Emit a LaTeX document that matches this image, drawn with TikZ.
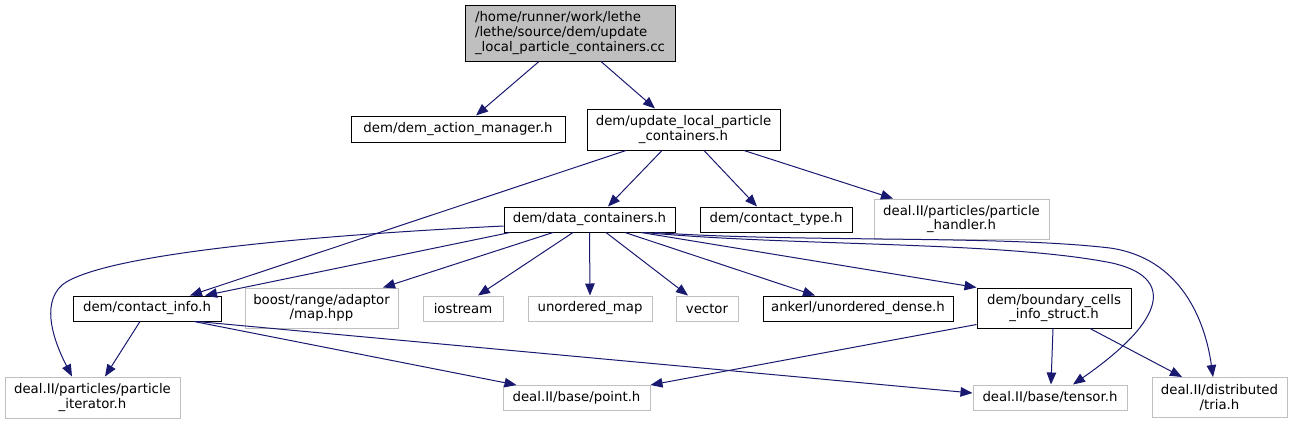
\documentclass[tikz,border=0pt]{standalone}
\usepackage{fontspec}
\setmainfont{DejaVu Sans}
\usetikzlibrary{arrows.meta}
\definecolor{edgeblue}{RGB}{25,25,112}
\definecolor{extgray}{RGB}{191,191,191}
\definecolor{rootfill}{RGB}{191,191,191}
\tikzset{
  box/.style={draw=black, line width=1pt, inner sep=0pt, align=center,
    font=\fontsize{13.3}{14.6}\selectfont, text=black},
  docbox/.style={box, draw=black},
  extbox/.style={box, draw=extgray},
  rootbox/.style={box, draw=black, fill=rootfill, align=left},
  dep/.style={draw=edgeblue, line width=1pt, -{Triangle[length=12pt,width=9.5pt]}},
}
\begin{document}
\begin{tikzpicture}[x=1pt,y=-1pt]
\useasboundingbox (0,0) rectangle (1293,424);
% nodes
\node[rootbox, minimum width=210pt, minimum height=56pt] (root) at (570,33)
  {/home/runner/work/lethe\\/lethe/source/dem/update\\\_local\_particle\_containers.cc};
\node[docbox, minimum width=214pt, minimum height=26pt] (dam) at (458,129) {dem/dem\_action\_manager.h};
\node[docbox, minimum width=193pt, minimum height=41pt] (ulpc) at (683.5,129.5) {dem/update\_local\_particle\\\_containers.h};
\node[docbox, minimum width=171pt, minimum height=25pt] (dc) at (589.5,219.5) {dem/data\_containers.h};
\node[docbox, minimum width=152pt, minimum height=25pt] (ct) at (776,219.5) {dem/contact\_type.h};
\node[extbox, minimum width=175pt, minimum height=40pt] (ph) at (961.5,219) {deal.II/particles/particle\\\_handler.h};
\node[docbox, minimum width=148pt, minimum height=25pt] (ci) at (147,308.5) {dem/contact\_info.h};
\node[extbox, minimum width=153pt, minimum height=40pt] (brm) at (321.5,308) {boost/range/adaptor\\/map.hpp};
\node[extbox, minimum width=80pt, minimum height=25pt] (ios) at (463,308.5) {iostream};
\node[extbox, minimum width=124pt, minimum height=25pt] (um) at (590,308.5) {unordered\_map};
\node[extbox, minimum width=62pt, minimum height=25pt] (vec) at (707,308.5) {vector};
\node[docbox, minimum width=190pt, minimum height=25pt] (ank) at (858,308.5) {ankerl/unordered\_dense.h};
\node[docbox, minimum width=154pt, minimum height=40pt] (bcis) at (1054,308) {dem/boundary\_cells\\\_info\_struct.h};
\node[extbox, minimum width=175pt, minimum height=41pt] (pi) at (92.5,397.5) {deal.II/particles/particle\\\_iterator.h};
\node[extbox, minimum width=147pt, minimum height=25pt] (pt) at (576.5,398) {deal.II/base/point.h};
\node[extbox, minimum width=154pt, minimum height=25pt] (ts) at (1050,397.5) {deal.II/base/tensor.h};
\node[extbox, minimum width=135pt, minimum height=40pt] (tria) at (1219.5,397.5) {deal.II/distributed\\/tria.h};
% edges
\draw[dep] ([xshift=-31pt]root.south) -- ([xshift=18pt]dam.north);
\draw[dep] ([xshift=31pt]root.south) -- ([xshift=-28.5pt]ulpc.north);
\draw[dep] ([xshift=-57.5pt]ulpc.south) -- ([xshift=43pt]ci.north);
\draw[dep] ([xshift=-21.5pt]ulpc.south) -- ([xshift=18.5pt]dc.north);
\draw[dep] ([xshift=20.5pt]ulpc.south) -- ([xshift=-19pt]ct.north);
\draw[dep] ([xshift=60.5pt]ulpc.south) -- ([xshift=-68.5pt]ph.north);
\draw[dep] ([yshift=-6.5pt]dc.west) .. controls +(-204,10) and +(38,-30) .. (62,285)
  .. controls +(-22,20) and +(-17,-33) .. ([xshift=-20.5pt]pi.north);
\draw[dep] ([xshift=-79.5pt]dc.south) -- ([xshift=58pt]ci.north);
\draw[dep] ([xshift=-36.5pt]dc.south) -- ([xshift=61.5pt]brm.north);
\draw[dep] ([xshift=-16.5pt]dc.south) -- ([xshift=15pt]ios.north);
\draw[dep] (dc.south) -- (um.north);
\draw[dep] ([xshift=16.5pt]dc.south) -- ([xshift=-19pt]vec.north);
\draw[dep] ([xshift=35.5pt]dc.south) -- ([xshift=-43pt]ank.north);
\draw[dep] ([xshift=51.5pt]dc.south) -- (bcis.north west);
\draw[dep] ([xshift=55pt]dc.south) .. controls +(150,14) and +(-110,-22) .. (1112,263)
  .. controls +(62,14) and +(95,-66) .. ([xshift=23pt]ts.north);
\draw[dep] ([xshift=65pt]dc.south) .. controls +(140,10) and +(-110,-13) .. (1110,248)
  .. controls +(70,10) and +(-8,-58) .. ([xshift=-6.5pt]tria.north);
\draw[dep] ([xshift=-7pt]ci.south) -- ([xshift=12.5pt]pi.north);
\draw[dep] ([xshift=47pt]ci.south) -- ([xshift=-60pt]pt.north);
\draw[dep] ([xshift=50pt]ci.south) -- ([yshift=4.5pt]ts.west);
\draw[dep] ([yshift=4pt]bcis.south west) -- (pt.north east);
\draw[dep] ([xshift=-1pt]bcis.south) -- ([xshift=1pt]ts.north);
\draw[dep] ([xshift=36pt]bcis.south) -- ([xshift=-37.5pt]tria.north);
\end{tikzpicture}
\end{document}
